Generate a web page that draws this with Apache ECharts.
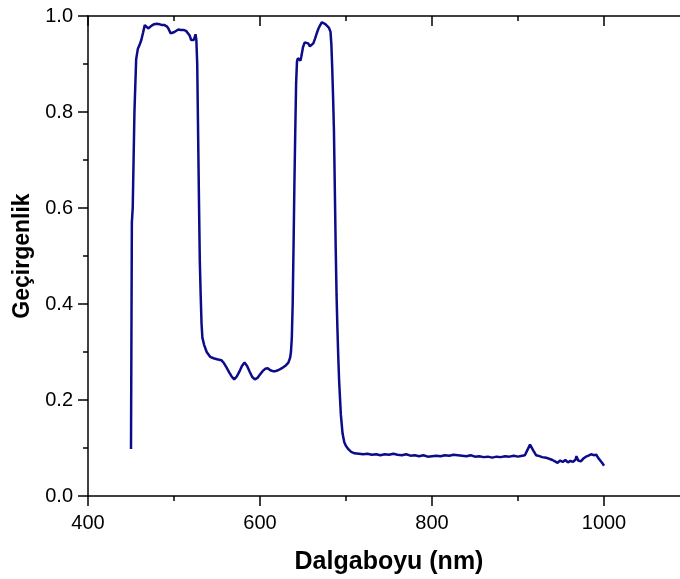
<!DOCTYPE html>
<html>
<head>
<meta charset="utf-8">
<script src="https://cdn.jsdelivr.net/npm/echarts@6/dist/echarts.min.js"></script>
<style>
html, body { margin: 0; padding: 0; background: #fff; }
#chart { width: 680px; height: 579px; }
</style>
</head>
<body>
<div id="chart"></div>
<script>
// dalga boyu (nm)
var wavelength = [
	450, 451, 452, 454, 456, 458, 460, 462, 464, 466, 468, 470, 472, 474, 477, 480, 483, 486, 489, 492,
	494, 496, 498, 500, 502, 505, 508, 511, 514, 516, 518, 520, 521, 523, 525, 526, 527, 528, 529, 530,
	531, 532, 533, 535, 538, 542, 546, 550, 555, 558, 561, 564, 567, 570, 573, 576, 579, 582, 585, 588,
	591, 594, 597, 600, 603, 606, 609, 612, 615, 618, 621, 624, 627, 630, 633, 635, 636, 637, 638, 639,
	640, 641, 642, 643, 644, 645, 646, 647, 648, 650, 652, 654, 656, 658, 660, 662, 664, 666, 668, 670,
	672, 674, 676, 678, 680, 682, 683, 684, 685, 686, 687, 688, 689, 690, 691, 692, 693, 694, 696, 698,
	700, 703, 706, 710, 715, 720, 725, 730, 735, 740, 745, 750, 755, 760, 765, 770, 775, 780, 785, 790,
	795, 800, 805, 810, 815, 820, 825, 830, 835, 840, 845, 850, 855, 860, 865, 870, 875, 880, 885, 890,
	895, 900, 905, 908, 911, 914, 916, 918, 921, 925, 928, 931, 934, 937, 940, 943, 946, 949, 952, 955,
	958, 961, 964, 967, 968, 970, 973, 976, 979, 982, 985, 988, 991, 993, 995, 997, 999, 1000
];
// geçirgenlik
var transmittance = [
	0.098, 0.57, 0.60, 0.80, 0.91, 0.932, 0.94, 0.95, 0.965, 0.981, 0.983, 0.974, 0.977, 0.980, 0.983, 0.984, 0.983, 0.981, 0.981, 0.978,
	0.972, 0.964, 0.962, 0.966, 0.970, 0.972, 0.971, 0.971, 0.969, 0.966, 0.960, 0.950, 0.946, 0.950, 0.962, 0.950, 0.90, 0.76, 0.62, 0.49,
	0.42, 0.36, 0.33, 0.315, 0.30, 0.29, 0.287, 0.285, 0.283, 0.277, 0.268, 0.258, 0.249, 0.243, 0.249, 0.259, 0.271, 0.278, 0.271, 0.259,
	0.248, 0.243, 0.246, 0.253, 0.26, 0.265, 0.266, 0.262, 0.26, 0.26, 0.262, 0.265, 0.268, 0.272, 0.278, 0.288, 0.30, 0.33, 0.40, 0.52,
	0.65, 0.76, 0.86, 0.905, 0.912, 0.916, 0.912, 0.907, 0.915, 0.935, 0.945, 0.947, 0.943, 0.937, 0.937, 0.943, 0.953, 0.964, 0.974, 0.981,
	0.987, 0.986, 0.983, 0.980, 0.976, 0.967, 0.94, 0.89, 0.83, 0.76, 0.64, 0.52, 0.42, 0.35, 0.29, 0.24, 0.205, 0.17, 0.13, 0.112,
	0.104, 0.097, 0.092, 0.089, 0.088, 0.087, 0.088, 0.086, 0.087, 0.085, 0.087, 0.086, 0.088, 0.086, 0.085, 0.087, 0.084, 0.085, 0.083, 0.085,
	0.082, 0.083, 0.084, 0.083, 0.085, 0.084, 0.086, 0.085, 0.084, 0.083, 0.085, 0.082, 0.083, 0.081, 0.082, 0.080, 0.082, 0.081, 0.083, 0.082,
	0.084, 0.082, 0.084, 0.085, 0.096, 0.107, 0.104, 0.094, 0.085, 0.083, 0.081, 0.080, 0.079, 0.077, 0.075, 0.072, 0.069, 0.074, 0.071, 0.075,
	0.070, 0.073, 0.071, 0.076, 0.083, 0.074, 0.072, 0.078, 0.082, 0.084, 0.087, 0.085, 0.086, 0.080, 0.076, 0.071, 0.066, 0.063
];
// eksen etiketleri
var xTicks = [400, 600, 800, 1000];
var xTitle = 'Dalgaboyu (nm)';
var yTitle = 'Geçirgenlik';

var myChart = echarts.init(document.getElementById('chart'));
var font = 'Liberation Sans, Arial, sans-serif';
var tickStyle = { color: '#000', width: 1.5 };
var option = {
	animation: false,
	grid: {
		left: 88,
		right: -10,
		top: 16,
		bottom: 83,
		outerBoundsMode: 'none',
		containLabel: false
	},
	xAxis: [{
		type: 'value',
		min: 400,
		max: 1100,
		interval: 200,
		name: xTitle,
		nameLocation: 'middle',
		nameGap: 54,
		nameTextStyle: { fontFamily: font, fontSize: 25, fontWeight: 'bold', color: '#000' },
		axisLine: { lineStyle: tickStyle },
		axisTick: { length: 10, lineStyle: tickStyle },
		minorTick: { show: true, splitNumber: 2, length: 5, lineStyle: tickStyle },
		axisLabel: {
			fontFamily: font, fontSize: 20, color: '#000', margin: 17,
			formatter: function(v) { return xTicks.indexOf(v) >= 0 ? String(v) : ''; }
		},
		splitLine: { show: false }
	}, {
		type: 'value',
		position: 'top',
		min: 400,
		max: 1100,
		interval: 200,
		axisLine: { lineStyle: tickStyle },
		axisTick: { inside: true, length: 10, lineStyle: tickStyle },
		minorTick: { show: true, splitNumber: 2, length: 5, lineStyle: tickStyle },
		axisLabel: { show: false },
		splitLine: { show: false }
	}],
	yAxis: {
		type: 'value',
		min: 0,
		max: 1,
		interval: 0.2,
		name: yTitle,
		nameLocation: 'middle',
		nameGap: 51,
		nameTextStyle: { fontFamily: font, fontSize: 23, fontWeight: 'bold', color: '#000' },
		axisLine: { show: true, lineStyle: tickStyle },
		axisTick: { show: true, length: 10, lineStyle: tickStyle },
		minorTick: { show: true, splitNumber: 2, length: 5, lineStyle: tickStyle },
		axisLabel: {
			fontFamily: font, fontSize: 20, color: '#000', margin: 15,
			formatter: function(v) { return v.toFixed(1); }
		},
		splitLine: { show: false }
	},
	series: [{
		type: 'line',
		xAxisIndex: 0,
		data: wavelength.map(function(w, i) {
			return [w, transmittance[i]];
		}),
		showSymbol: false,
		lineStyle: { color: '#0c0c8a', width: 2.5 }
	}]
};
myChart.setOption(option);
</script>
</body>
</html>
